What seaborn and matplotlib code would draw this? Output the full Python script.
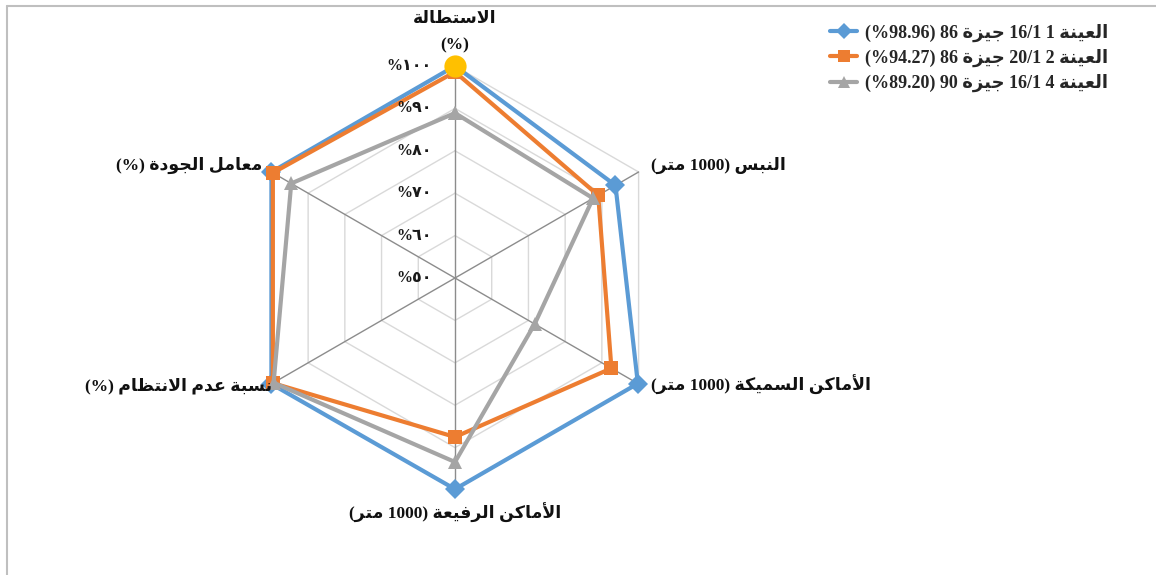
import numpy as np
import pandas as pd
import matplotlib
matplotlib.use('Agg')
import matplotlib.pyplot as plt
import matplotlib.transforms as mtransforms
from matplotlib.lines import Line2D
import seaborn as sns

# --- data -------------------------------------------------------------
categories = ['الاستطالة (%)', 'النبس (1000 متر)', 'الأماكن السميكة (1000 متر)',
              'الأماكن الرفيعة (1000 متر)', 'نسبة عدم الانتظام (%)', 'معامل الجودة (%)']
series_names = ['العينة 1 16/1 جيزة 86 (98.96%)',
                'العينة 2 20/1 جيزة 86 (94.27%)',
                'العينة 4 16/1 جيزة 90 (89.20%)']
sample1 = [100.0, 93.7, 99.8, 99.8, 100.0, 100.0]
sample2 = [98.6, 89.0, 92.6, 87.5, 99.6, 99.6]
sample3 = [88.9, 87.6, 71.7, 93.4, 99.4, 94.6]
r_ticks = [50, 60, 70, 80, 90, 100]

colors = ['#5B9BD5', '#ED7D31', '#A5A5A5']
markers = ['D', 's', '^']

# --- tiny arabic shaping (no reshaper lib available) ------------------
FORMS = {
    'ا': (0xFE8D, 0xFE8E), 'أ': (0xFE83, 0xFE84), 'ة': (0xFE93, 0xFE94),
    'د': (0xFEA9, 0xFEAA), 'ر': (0xFEAD, 0xFEAE), 'ز': (0xFEAF, 0xFEB0),
    'و': (0xFEED, 0xFEEE),
    'ب': (0xFE8F, 0xFE90, 0xFE91, 0xFE92), 'ت': (0xFE95, 0xFE96, 0xFE97, 0xFE98),
    'ج': (0xFE9D, 0xFE9E, 0xFE9F, 0xFEA0), 'س': (0xFEB1, 0xFEB2, 0xFEB3, 0xFEB4),
    'ط': (0xFEC1, 0xFEC2, 0xFEC3, 0xFEC4), 'ظ': (0xFEC5, 0xFEC6, 0xFEC7, 0xFEC8),
    'ع': (0xFEC9, 0xFECA, 0xFECB, 0xFECC), 'ف': (0xFED1, 0xFED2, 0xFED3, 0xFED4),
    'ك': (0xFED9, 0xFEDA, 0xFEDB, 0xFEDC), 'ل': (0xFEDD, 0xFEDE, 0xFEDF, 0xFEE0),
    'م': (0xFEE1, 0xFEE2, 0xFEE3, 0xFEE4), 'ن': (0xFEE5, 0xFEE6, 0xFEE7, 0xFEE8),
    'ي': (0xFEF1, 0xFEF2, 0xFEF3, 0xFEF4),
    'لا': (0xFEFB, 0xFEFC), 'لأ': (0xFEF7, 0xFEF8),
}


def ar(text):
    toks = []
    i = 0
    while i < len(text):
        if text[i] == 'ل' and i + 1 < len(text) and text[i + 1] in 'اأ':
            toks.append(text[i:i + 2])
            i += 2
        else:
            toks.append(text[i])
            i += 1
    out = []
    for k, t in enumerate(toks):
        if t not in FORMS:
            out.append(t)
            continue
        f = FORMS[t]
        prev = toks[k - 1] if k > 0 else None
        nxt = toks[k + 1] if k + 1 < len(toks) else None
        jp = prev in FORMS and len(FORMS[prev]) == 4
        jn = len(f) == 4 and nxt in FORMS
        if len(f) == 2:
            out.append(chr(f[1] if jp else f[0]))
        else:
            out.append(chr(f[3] if jp and jn else f[1] if jp else f[2] if jn else f[0]))
    return ''.join(out[::-1])


# visual (left-to-right) versions of the labels
unit_m = '(' + ar('متر') + ' 1000) '
cat_labels = [ar('الاستطالة') + '\n(%)',
              unit_m + ar('النبس'),
              unit_m + ar('الأماكن السميكة'),
              unit_m + ar('الأماكن الرفيعة'),
              '(%) ' + ar('نسبة عدم الانتظام'),
              '(%) ' + ar('معامل الجودة')]
leg_labels = []
for name in series_names:
    w = name.split()
    pct = w[5].strip('()%')
    leg_labels.append('(%' + pct + ') ' + w[4] + ' ' + ar(w[3]) + ' ' + w[2] + ' ' + w[1] + ' ' + ar(w[0]))

# --- build long table (each loop closed back to the first category) ---
n = len(categories)
theta = np.linspace(0, 2 * np.pi, n, endpoint=False)
rows = []
for name, vals in zip(series_names, [sample1, sample2, sample3]):
    for k in range(n):
        rows.append({'series': name, 'theta': theta[k], 'value': vals[k]})
    rows.append({'series': name, 'theta': 2 * np.pi, 'value': vals[0]})
df = pd.DataFrame(rows)

# --- figure ------------------------------------------------------------
sns.set_theme(style='white')
plt.rcParams['font.family'] = ['Liberation Serif', 'DejaVu Sans']
plt.rcParams['font.weight'] = 'bold'

fig = plt.figure(figsize=(11.56, 5.75), dpi=100)
ax = fig.add_axes([243 / 1156, 85 / 575, 424 / 1156, 424 / 575], projection='polar')
ax.set_theta_zero_location('N')
ax.set_theta_direction(-1)
ax.set_ylim(50, 100)
ax.grid(False)
ax.set_xticks([])
ax.set_yticks([])
ax.spines['polar'].set_visible(False)
ax.patch.set_alpha(0)

# hexagonal grid rings and spokes
ring_theta = np.append(theta, 2 * np.pi)
for v in r_ticks[1:]:
    ax.plot(ring_theta, [v] * (n + 1), color='#D9D9D9', lw=1, zorder=0)
for t in theta:
    ax.plot([t, t], [r_ticks[0], r_ticks[-1]], color='#8C8C8C', lw=1, zorder=0)

sns.lineplot(data=df, x='theta', y='value', hue='series', style='series',
             hue_order=series_names, style_order=series_names,
             palette=colors, markers=markers, dashes=False, sort=False,
             estimator=None, linewidth=3, markersize=10,
             markeredgewidth=0, legend=False, ax=ax)
for l in ax.lines:
    l.set_clip_on(False)
ax.set_xlabel('')
ax.set_ylabel('')

# highlighted point
ax.plot(theta[0], sample1[0], 'o', color='#FFC000', ms=16, mew=0, clip_on=False, zorder=5)

# radial tick labels (arabic-indic digits)
tick_tr = mtransforms.offset_copy(ax.transData, fig=fig, x=-23, y=0, units='dots')
for v in r_ticks:
    digits = ''.join(chr(0x660 + int(d)) for d in str(v))
    ax.text(0, v, '%' + digits, transform=tick_tr, ha='right', va='center',
            fontsize=11.5, fontweight='bold', color='#1a1a1a')

# category labels
offsets = [(0, 13, 'center', 'bottom'), (12, 7, 'left', 'center'), (12, -1, 'left', 'center'),
           (0, -13, 'center', 'top'), (1, -2, 'right', 'center'), (-9, 7, 'right', 'center')]
for t, lab, (dx, dy, ha, va) in zip(theta, cat_labels, offsets):
    tr = mtransforms.offset_copy(ax.transData, fig=fig, x=dx, y=dy, units='dots')
    ax.text(t, 100, lab, transform=tr, ha=ha, va=va, fontsize=12.5, fontweight='bold',
            color='#111111', linespacing=1.8)

# legend
handles = [Line2D([0], [0], color=c, marker=m, lw=3, ms=8, mew=0) for c, m in zip(colors, markers)]
fig.legend(handles, leg_labels, loc='upper left', bbox_to_anchor=(814 / 1156, 1 - 7 / 575),
           frameon=False, handlelength=1.5, handletextpad=0.4, labelspacing=0.4,
           prop={'weight': 'bold', 'size': 13})

# chart area border (top and left visible)
fig.add_artist(Line2D([7 / 1156, 1], [1 - 6 / 575, 1 - 6 / 575], transform=fig.transFigure,
                      color='#BFBFBF', lw=1.5))
fig.add_artist(Line2D([7 / 1156, 7 / 1156], [0, 1 - 6 / 575], transform=fig.transFigure,
                      color='#BFBFBF', lw=1.5))

fig.savefig('out.png', dpi=100)
